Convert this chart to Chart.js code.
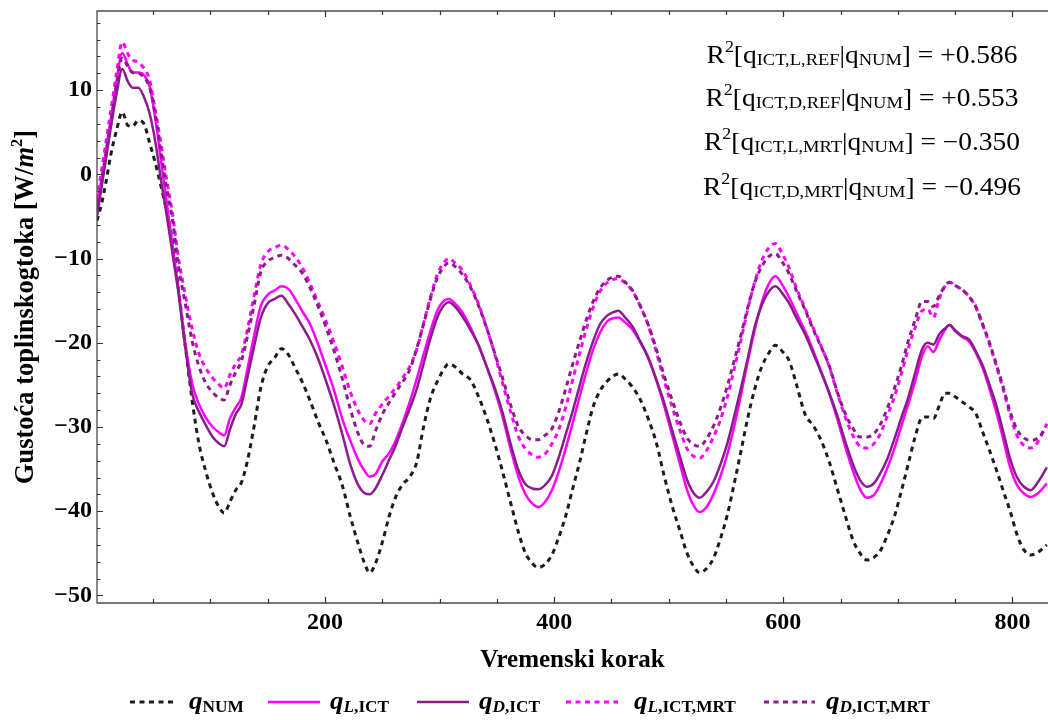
<!DOCTYPE html>
<html><head><meta charset="utf-8">
<script src="https://cdn.jsdelivr.net/npm/chart.js@4.4.1/dist/chart.umd.min.js"></script>
<style>html,body{margin:0;padding:0;background:#fff;}#wrap{width:1048px;height:720px;}</style>
</head><body><div id="wrap"><canvas id="c" width="1048" height="720"></canvas></div>
<script>
// ---- data ----
const koraci = [
1,5,9,13,18,23,28,32,37,42,
47,52,57,62,67,72,78,84,90,96,
102,107,112,117,122,127,132,138,144,150,
156,162,168,174,180,187,194,201,208,215,
222,229,234,239,244,250,256,262,268,274,
280,286,292,298,303,308,314,320,327,334,
341,348,355,362,369,375,381,386,392,398,
404,410,416,422,428,434,440,446,451,456,
462,468,475,482,489,496,503,510,516,522,
527,533,539,545,551,557,563,569,575,581,
587,593,599,605,612,619,626,633,640,647,
654,661,667,673,679,685,691,697,703,709,
715,721,726,731,736,741,745,750,756,762,
768,774,780,786,792,798,804,810,816,822,
830];
const qNUM = [
-5.5,-3.5,-0.8,2.3,5.2,7.4,5.8,5.7,6.4,6.0,
3.7,1.3,-1.5,-4.5,-8,-13.5,-20.3,-26.8,-32,-35.3,
-37.9,-39.4,-40.2,-38.9,-37.5,-36.6,-34.2,-30,-25.3,-22.8,
-21.8,-20.7,-21.4,-23,-24.6,-26.9,-29.4,-31.6,-34.3,-36.9,
-40.6,-43.9,-46,-47.3,-46.2,-43.7,-40.6,-38.2,-36.8,-35.9,
-34.2,-30,-26.6,-24.6,-23.3,-22.5,-22.9,-23.7,-24.4,-26.4,
-28.9,-31.9,-35.3,-39,-42.6,-45,-46.2,-46.7,-46.3,-45.2,
-43.1,-40.6,-37.4,-34.3,-30.8,-27.6,-25.7,-24.6,-24,-23.7,
-24.3,-25.2,-26.7,-29,-31.8,-35.8,-39.4,-42.4,-45,-46.6,
-47.3,-46.8,-45.6,-43.3,-40.5,-36.8,-32.9,-28.9,-25.5,-22.9,
-21.3,-20.3,-21,-22.1,-25.2,-28.5,-29.8,-31.6,-34.1,-37.3,
-40.5,-43.5,-45,-45.8,-45.5,-44.6,-42.8,-40.6,-37.6,-34.4,
-31.2,-28.9,-28.8,-29,-27.5,-26,-26,-26.4,-27,-27.6,
-28.4,-30.6,-32.8,-35.1,-37.6,-40,-42.8,-44.6,-45.2,-44.9,
-44];
const qLICT = [
-4,-0.5,3,6.5,11,14.4,13,12.1,12.1,11.8,
10.4,6.5,1.5,-3.5,-8.5,-13.5,-20,-24.8,-27.3,-28.9,
-30,-30.6,-31,-29,-27.7,-26.5,-23.3,-19.2,-15.6,-14.3,
-13.8,-13.3,-13.6,-14.8,-16.2,-17.8,-20.2,-22.9,-25.7,-29,
-31.6,-33.9,-35.1,-35.9,-35.6,-34.1,-33.1,-31.5,-29.4,-27,
-24.3,-21.4,-18.6,-16.2,-15.1,-14.8,-15.4,-16.4,-18.2,-20.3,
-22.8,-25.6,-28.8,-32.6,-36,-38,-39.1,-39.5,-38.9,-37.5,
-35.3,-32.6,-29.6,-26.5,-23.5,-20.8,-18.8,-17.5,-17.1,-17,
-17.6,-18.4,-19.9,-21.8,-24.4,-27.5,-31,-34.5,-37.5,-39.4,
-40.1,-39.5,-38,-35.9,-33.3,-30,-26.2,-22.2,-18.5,-15.3,
-13.1,-12.1,-13.1,-14.6,-16.6,-18.6,-20.9,-23.4,-26,-29,
-32.3,-35.3,-37.4,-38.4,-38.1,-36.7,-34.8,-32.5,-29.9,-27.3,
-24.6,-21.6,-20.4,-21.1,-19.7,-18.5,-17.9,-18.6,-19.3,-19.8,
-21.2,-23,-25.5,-28.3,-31.5,-34.8,-36.9,-37.9,-38.3,-37.9,
-36.7];
const qDICT = [
-5,-1.5,2,5.5,9.5,12.5,11,10.3,10.3,9.2,
7.2,3.8,-0.8,-5,-9.5,-14,-20.5,-26,-28.2,-29.8,
-31.2,-31.9,-32.3,-30.3,-28.5,-27.3,-24.3,-20.5,-17,-15.3,
-14.8,-14.4,-15.4,-16.6,-18,-19.7,-21.9,-24.6,-27.5,-30.8,
-34.4,-36.9,-37.8,-38,-37.3,-35.7,-33.9,-32.1,-29.9,-27.8,
-25.5,-22.5,-19.5,-17,-15.7,-15.2,-15.8,-16.9,-18.5,-20.3,
-22.8,-25.3,-28.3,-32,-35.2,-36.8,-37.3,-37.4,-36.9,-35.8,
-33.6,-30.9,-28.2,-25.2,-22.3,-19.8,-17.8,-16.8,-16.4,-16.2,
-17,-18,-19.8,-21.7,-24.3,-27.1,-30.4,-33.6,-36.3,-37.9,
-38.4,-37.7,-36.5,-34.5,-32,-28.8,-25.4,-21.8,-18.1,-15.6,
-14,-13.3,-14.1,-15.3,-17.2,-19,-21.2,-23.5,-25.9,-28.6,
-31.7,-34.5,-36.3,-37.1,-36.7,-35.4,-33.7,-31.4,-28.9,-26.5,
-23.6,-20.8,-20,-20.2,-19,-18.3,-17.9,-18.5,-19.2,-19.6,
-21,-22.7,-25,-27.5,-30.6,-33.8,-36,-37.1,-37.5,-36.6,
-34.8];
const qLICTMRT = [
-3,0.5,4,7.5,12,15.7,14.3,13.6,13.3,12.6,
11.2,7.5,3.5,-0.8,-4.8,-9.8,-14.3,-18.3,-21.3,-23,
-24.2,-24.9,-25.4,-23.8,-22.5,-21.4,-18.6,-14.5,-10.7,-9.2,
-8.7,-8.4,-8.9,-9.8,-11,-13,-15.2,-17.5,-20,-22.8,
-25.8,-28.1,-29.2,-29.6,-28.4,-27.3,-26.3,-25.3,-24.1,-22.8,
-20.8,-17.7,-14.6,-11.9,-10.6,-10,-10.6,-11.4,-13.2,-15.4,
-18.2,-21.3,-24.8,-28.2,-31.2,-32.6,-33.3,-33.6,-33.2,-32,
-30.3,-27.7,-24.5,-21.4,-18.4,-15.8,-13.9,-12.9,-12.5,-12.4,
-12.9,-13.8,-15.6,-17.9,-21,-24.5,-27.6,-30.5,-32.6,-33.5,
-33.7,-32.8,-31.2,-29.2,-26.5,-23.2,-19.7,-16,-12.8,-10.3,
-8.8,-8.2,-9.4,-11.1,-13.7,-15.9,-18.2,-20.4,-22.8,-25.9,
-28.8,-31.1,-32.3,-32.5,-32,-30.7,-28.6,-26.4,-23.7,-20.7,
-18.2,-16.2,-16,-17,-14.8,-13.3,-12.8,-13.2,-13.7,-14.5,
-15.8,-17.9,-20.2,-22.8,-25.6,-28.6,-31,-32.2,-32.5,-31.8,
-29.6];
const qDICTMRT = [
-4.5,-1,2.5,6,10.5,13.8,12.8,12.1,12,11.5,
10.3,7,2.5,-1.8,-5.5,-10.8,-15.3,-19.8,-22.8,-24.8,
-25.9,-26.5,-26.8,-25,-23.5,-22.2,-19.4,-15.6,-11.6,-10.3,
-9.9,-9.6,-10,-10.8,-11.7,-13.5,-15.7,-18.2,-21,-24.2,
-27.8,-30.8,-32.1,-32.3,-30.5,-28.5,-27.1,-25.8,-24.6,-23.2,
-20.7,-17.8,-14.8,-12.3,-11.1,-10.5,-11,-11.9,-13.4,-15.6,
-18.2,-21.2,-24.2,-27.4,-30,-31,-31.5,-31.5,-31,-30.2,
-28.2,-25.5,-22.6,-19.9,-17.3,-15.1,-13.5,-12.6,-12.2,-12.1,
-12.8,-13.7,-15.6,-17.8,-20.7,-23.9,-26.8,-29.5,-31.3,-32.1,
-32.3,-31.4,-29.9,-27.8,-25.2,-22.2,-19.1,-15.8,-12.9,-11,
-9.8,-9.4,-10.4,-11.8,-14,-16.1,-18.4,-20.5,-22.7,-25.8,
-28.4,-30.2,-31.2,-31.2,-30.8,-29.6,-27.7,-25.4,-22.8,-19.8,
-17.3,-15.1,-15.1,-15.7,-14.4,-13.3,-12.8,-13.2,-13.7,-14.5,
-15.7,-17.8,-20,-22.6,-25.3,-28.2,-30.3,-31.3,-31.6,-31.3,
-30];
const xTicks = [200, 400, 600, 800];
const yTicks = [-50, -40, -30, -20, -10, 0, 10];
const r2Indeksi = ['ICT,L,REF', 'ICT,D,REF', 'ICT,L,MRT', 'ICT,D,MRT'];
const r2Vrijednosti = ['+0.586', '+0.553', '\u22120.350', '\u22120.496'];
// legend labels: [italic letter, rest of subscript]
const legendSub = [['', 'NUM'], ['L', ',ICT'], ['D', ',ICT'], ['L', ',ICT,MRT'], ['D', ',ICT,MRT']];

// ---- styling ----
const SERIF = '"Liberation Serif","Times New Roman",serif';
const fnt = (style, weight, size) => `${style} ${weight} ${size}px ${SERIF}`;
const CRNA = '#1c1c1c', MAG = '#ff00ff', LJUB = '#8b1c8b';
const serije = [
  {v: qNUM, c: CRNA, dash: [5, 4.5], w: 3},
  {v: qLICT, c: MAG, dash: [], w: 2.5},
  {v: qDICT, c: LJUB, dash: [], w: 2.5},
  {v: qLICTMRT, c: MAG, dash: [5, 4.5], w: 3},
  {v: qDICTMRT, c: LJUB, dash: [5, 4.5], w: 3}
];

function rich(ctx, segs, x, y, align, sx) {
  sx = sx || 1;
  let w = 0;
  for (const s of segs) { ctx.font = s.f; s.w = ctx.measureText(s.t).width; w += s.w; }
  const x0 = align === 'center' ? x - w * sx / 2 : (align === 'right' ? x - w * sx : x);
  ctx.save(); ctx.translate(x0, y); ctx.scale(sx, 1);
  let cx = 0;
  for (const s of segs) { ctx.font = s.f; ctx.fillText(s.t, cx, s.dy || 0); cx += s.w; }
  ctx.restore();
  return w * sx;
}

const okvir = {
  id: 'okvir',
  afterDraw(chart) {
    const {ctx, chartArea: a, scales: {x, y}} = chart;
    ctx.save();
    // frame
    ctx.strokeStyle = '#4a4a4a'; ctx.lineWidth = 1.3; ctx.setLineDash([]);
    ctx.beginPath();
    ctx.moveTo(a.right + 2, a.top); ctx.lineTo(a.left, a.top);
    ctx.lineTo(a.left, a.bottom); ctx.lineTo(a.right + 2, a.bottom);
    ctx.stroke();
    // ticks (inward)
    ctx.lineWidth = 1.2; ctx.strokeStyle = '#333';
    ctx.beginPath();
    for (let v = 50; v <= x.max; v += 50) {
      const px = Math.round(x.getPixelForValue(v)) + 0.5;
      const L = v % 200 === 0 ? 6 : 4;
      ctx.moveTo(px, a.bottom); ctx.lineTo(px, a.bottom - L);
      ctx.moveTo(px, a.top); ctx.lineTo(px, a.top + L);
    }
    for (let v = -50; v <= 18; v += 2) {
      const py = Math.round(y.getPixelForValue(v)) + 0.5;
      const L = v % 10 === 0 ? 6 : 3.5;
      ctx.moveTo(a.left, py); ctx.lineTo(a.left + L, py);
    }
    ctx.stroke();

    ctx.fillStyle = '#000';
    ctx.textBaseline = 'alphabetic';
    // axis titles
    rich(ctx, [{t: 'Vremenski korak', f: fnt('normal', 'bold', 25)}], (a.left + a.right) / 2, 667, 'center');
    ctx.save();
    ctx.translate(33, 307);
    ctx.rotate(-Math.PI / 2);
    rich(ctx, [
      {t: 'Gusto\u0107a toplinskogtoka [W/', f: fnt('normal', 'bold', 26.5)},
      {t: 'm', f: fnt('italic', 'bold', 26.5)},
      {t: '2', f: fnt('normal', 'bold', 16.5), dy: -11},
      {t: ']', f: fnt('normal', 'bold', 26.5)}
    ], 0, 0, 'center');
    ctx.restore();

    // R^2 annotation
    const M = fnt('normal', 'normal', 24.5), S = fnt('normal', 'normal', 16.5);
    const baselines = [63, 106, 150, 195];
    r2Indeksi.forEach((ind, i) => {
      rich(ctx, [
        {t: 'R', f: M}, {t: '2', f: fnt('normal', 'normal', 16), dy: -11},
        {t: '[', f: M}, {t: 'q', f: M}, {t: ind, f: S, dy: 2},
        {t: '|', f: M}, {t: 'q', f: M}, {t: 'NUM', f: S, dy: 2},
        {t: ']', f: M}, {t: ' = ' + r2Vrijednosti[i], f: M}
      ], 862, baselines[i], 'center', 1.12);
    });

    // legend
    const lx = [[130, 173, 189], [268, 320, 330], [417, 469, 479], [566, 618, 634], [764, 815, 826]];
    serije.forEach((s, i) => {
      ctx.strokeStyle = s.c; ctx.lineWidth = s.w; ctx.setLineDash(s.dash);
      ctx.beginPath(); ctx.moveTo(lx[i][0], 702); ctx.lineTo(lx[i][1], 702); ctx.stroke();
      ctx.setLineDash([]);
      const segs = [{t: 'q', f: fnt('italic', 'bold', 25)}];
      if (legendSub[i][0]) segs.push({t: legendSub[i][0], f: fnt('italic', 'bold', 16), dy: 3});
      segs.push({t: legendSub[i][1], f: fnt('normal', 'bold', 16), dy: 3});
      rich(ctx, segs, lx[i][2], 709, 'left', 1.08);
    });
    ctx.restore();
  }
};

new Chart(document.getElementById('c'), {
  type: 'line',
  data: {
    datasets: serije.map((s, i) => ({
      label: 'q' + legendSub[i].join(''),
      data: koraci.map((t, k) => ({x: t, y: s.v[k]})),
      borderColor: s.c, borderWidth: s.w, borderDash: s.dash, borderCapStyle: 'butt',
      pointRadius: 0, fill: false, cubicInterpolationMode: 'monotone',
      order: 5 - i
    }))
  },
  options: {
    responsive: false, animation: false, devicePixelRatio: 1,
    layout: {autoPadding: false, padding: {left: 0, right: 0, top: 11, bottom: 0}},
    plugins: {legend: {display: false}, tooltip: {enabled: false}},
    scales: {
      x: {
        type: 'linear', min: 1, max: 831,
        afterBuildTicks: s => { s.ticks = xTicks.map(v => ({value: v})); },
        afterFit: s => { s.height = 117; s.paddingLeft = 0; s.paddingRight = 0; },
        grid: {display: false, drawTicks: false}, border: {display: false},
        ticks: {color: '#000', font: {family: SERIF, weight: 'bold', size: 24}, padding: 5, maxRotation: 0, autoSkip: false}
      },
      y: {
        type: 'linear', min: -50.9, max: 19.4,
        afterBuildTicks: s => { s.ticks = yTicks.map(v => ({value: v})); },
        afterFit: s => { s.width = 97; s.paddingTop = 0; s.paddingBottom = 0; },
        grid: {display: false, drawTicks: false}, border: {display: false},
        ticks: {color: '#000', font: {family: SERIF, weight: 'bold', size: 24}, padding: 5,
          callback: v => (v < 0 ? '\u2212' + Math.abs(v) : String(v))}
      }
    }
  },
  plugins: [okvir]
});
</script></body></html>
